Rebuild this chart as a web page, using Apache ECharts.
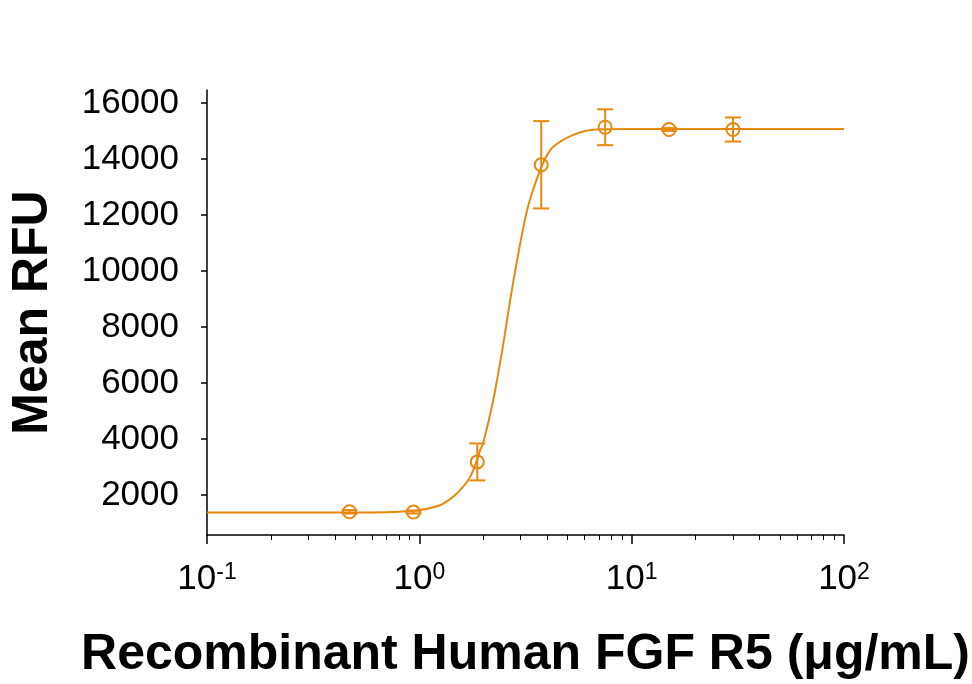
<!DOCTYPE html>
<html>
<head>
<meta charset="utf-8">
<script src="https://cdn.jsdelivr.net/npm/echarts@6/dist/echarts.min.js"></script>
<style>
  html, body { margin: 0; padding: 0; background: #fff; }
  #main { width: 972px; height: 684px; }
</style>
</head>
<body>
<div id="main"></div>
<script>
// measured points: concentration (ug/mL), mean RFU, error (+/-)
const conc = [0.469, 0.938, 1.875, 3.75, 7.5, 15, 30];
const rfu = [1400, 1390, 3180, 13790, 15130, 15050, 15050];
const err = [60, 50, 660, 1560, 640, 50, 430];

// fitted curve
const fitX = [0.1, 0.6, 0.814, 1.01, 1.256, 1.445, 1.61, 1.738, 1.835, 1.937, 2.0, 2.23, 2.459, 2.68, 2.89, 3.22, 3.71, 4.14, 4.61, 5.31, 6.17, 7.11, 10, 100];
const fitY = [1375, 1375, 1404, 1464, 1643, 1940, 2296, 2654, 3071, 3607, 3857, 5393, 7179, 8964, 10393, 12179, 13607, 14321, 14618, 14857, 15011, 15060, 15070, 15070];

const yTicks = [2000, 4000, 6000, 8000, 10000, 12000, 14000, 16000];
const minorTicks = [0.2, 0.3, 0.4, 0.5, 0.6, 0.7, 0.8, 0.9, 2, 3, 4, 5, 6, 7, 8, 9, 20, 30, 40, 50, 60, 70, 80, 90];

const orange = '#E8890F';
const font = "'Liberation Sans', Arial, sans-serif";

let myChart = echarts.init(document.getElementById('main'));

let curve = fitX.map((x, i) => [x, fitY[i]]);
let points = conc.map((x, i) => [x, rfu[i]]);
let bars = conc.map((x, i) => [x, rfu[i] - err[i], rfu[i] + err[i]]);

let option = {
  animation: false,
  grid: { left: 207, right: 128, top: 90, bottom: 149, containLabel: false, outerBoundsMode: 'none' },
  xAxis: [
    {
      type: 'log',
      logBase: 10,
      min: 0.1,
      max: 100,
      name: 'Recombinant Human FGF R5 (\u03bcg/mL)',
      nameLocation: 'middle',
      nameGap: 95,
      nameTextStyle: { color: '#000', fontFamily: font, fontWeight: 'bold', fontSize: 50 },
      axisLine: { lineStyle: { color: '#000', width: 1.5 } },
      axisTick: { inside: false, length: 9, lineStyle: { color: '#000', width: 1.5 } },
      splitLine: { show: false },
      axisLabel: {
        margin: 26,
        color: '#000',
        formatter: function (value) {
          let e = Math.round(Math.log10(value));
          return '{b|10}{s|' + e + '}';
        },
        rich: {
          b: { fontFamily: font, fontSize: 35, color: '#000' },
          s: { fontFamily: font, fontSize: 23, color: '#000', verticalAlign: 'top', padding: [0, 0, 14, 0] }
        }
      }
    },
    {
      // minor ticks (2..9 of each decade)
      type: 'log',
      logBase: 10,
      min: 0.1,
      max: 100,
      position: 'bottom',
      axisLine: { show: false },
      axisTick: { length: 5, customValues: minorTicks, lineStyle: { color: '#000', width: 1 } },
      axisLabel: { show: false },
      splitLine: { show: false }
    }
  ],
  yAxis: {
    type: 'value',
    min: 570,
    max: 16460,
    name: 'Mean RFU',
    nameLocation: 'middle',
    nameGap: 149,
    nameRotate: 90,
    nameTextStyle: { color: '#000', fontFamily: font, fontWeight: 'bold', fontSize: 50 },
    axisLine: { show: true, lineStyle: { color: '#000', width: 1.5 } },
    axisTick: { show: true, length: 6, customValues: yTicks, lineStyle: { color: '#000', width: 1.5 } },
    axisLabel: {
      customValues: yTicks,
      margin: 28,
      color: '#000',
      fontFamily: font,
      fontSize: 35,
      formatter: function (value) { return String(value); }
    },
    splitLine: { show: false }
  },
  series: [
    {
      name: 'fit',
      type: 'line',
      data: curve,
      smooth: 0.3,
      showSymbol: false,
      lineStyle: { color: orange, width: 2 },
      z: 2
    },
    {
      name: 'error',
      type: 'custom',
      data: bars,
      renderItem: function (params, api) {
        let x = api.value(0);
        let lo = api.coord([x, api.value(1)]);
        let hi = api.coord([x, api.value(2)]);
        let w = 8;
        let st = { stroke: orange, lineWidth: 2, fill: null };
        return {
          type: 'group',
          children: [
            { type: 'line', shape: { x1: lo[0], y1: lo[1], x2: hi[0], y2: hi[1] }, style: st },
            { type: 'line', shape: { x1: lo[0] - w, y1: lo[1], x2: lo[0] + w, y2: lo[1] }, style: st },
            { type: 'line', shape: { x1: hi[0] - w, y1: hi[1], x2: hi[0] + w, y2: hi[1] }, style: st }
          ]
        };
      },
      z: 3
    },
    {
      name: 'mean',
      type: 'scatter',
      data: points,
      symbol: 'circle',
      symbolSize: 13,
      itemStyle: { color: 'rgba(0,0,0,0)', borderColor: orange, borderWidth: 2, opacity: 1 },
      z: 4
    }
  ]
};
myChart.setOption(option);
</script>
</body>
</html>
